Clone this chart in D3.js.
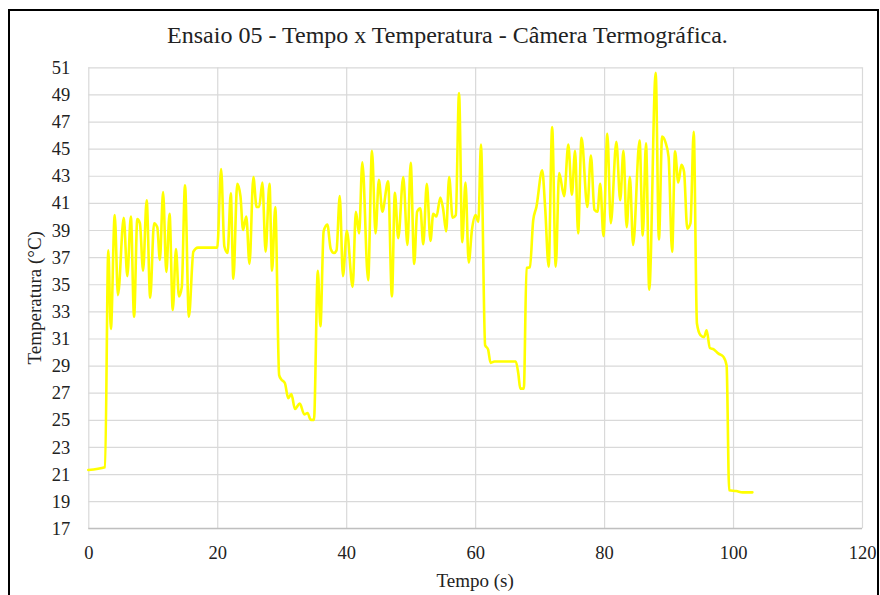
<!DOCTYPE html>
<html>
<head>
<meta charset="utf-8">
<script src="https://cdn.jsdelivr.net/npm/d3@7"></script>
<style>
  html, body { margin: 0; padding: 0; background: #fff; }
  svg { display: block; }
  text { font-family: "Liberation Serif", "Times New Roman", serif; fill: #222; }
</style>
</head>
<body>
<svg id="chart" width="880" height="595"></svg>
<script>
const titleText = "Ensaio 05 - Tempo x Temperatura - Câmera Termográfica.";
const xLabel = "Tempo (s)";
const yLabel = "Temperatura (°C)";
const xTicks = [0, 20, 40, 60, 80, 100, 120];
const yTicks = [17, 19, 21, 23, 25, 27, 29, 31, 33, 35, 37, 39, 41, 43, 45, 47, 49, 51];

const time = [0, 2.6, 3.1, 3.5, 4.1, 4.6, 5.5, 6.05, 6.6, 7.1, 7.6, 8.0, 8.5, 9.05, 9.6, 10.2, 10.7, 11.1, 11.6, 12.1,
  12.6, 13.1, 13.6, 14.05, 14.5, 15.0, 15.6, 16.3, 17.0, 18.5, 20.0, 20.6, 21.1, 21.6, 22.1, 22.5, 23.1, 23.6, 24.0, 24.5,
  25.0, 25.6, 26.1, 26.5, 27.0, 27.5, 28.1, 28.5, 29.0, 29.6, 29.9, 30.5, 31.0, 31.5, 32.05, 32.8, 33.5, 34.0, 34.5, 35.0,
  35.6, 36.0, 36.5, 37.07, 37.6, 38.1, 38.5, 39.0, 39.5, 40.1, 41.0, 41.5, 42.0, 42.5, 43.4, 44.0, 44.55, 45.07, 45.6, 46.5,
  47.09, 47.55, 48.07, 48.85, 49.5, 50.0, 50.55, 51.0, 51.5, 51.95, 52.5, 53.07, 53.5, 54.0, 54.6, 55.05, 55.5, 55.97, 56.5, 57.0,
  57.5, 58.0, 58.5, 59.0, 59.5, 60.06, 60.5, 60.9, 61.55, 62.0, 62.4, 63.0, 64.5, 66.3, 66.7, 67.0, 67.55, 67.97, 68.5, 69.0,
  69.5, 70.4, 70.85, 71.4, 71.94, 72.5, 73.03, 73.8, 74.45, 75.0, 75.5, 75.97, 76.5, 77.4, 77.95, 78.5, 78.97, 79.4, 79.9, 80.5,
  81.04, 81.9, 82.5, 83.0, 83.5, 84.0, 84.5, 85.5, 86.0, 86.5, 87.0, 88.0, 88.5, 89.0, 89.5, 90.0, 90.55, 91.0, 91.5, 92.0,
  92.4, 92.9, 93.4, 93.9, 94.4, 94.94, 95.5, 95.9, 96.4, 97.0, 97.7, 98.5, 99.0, 99.4, 100.5, 101.5, 103.0];

const temperature = [21.3, 21.5, 37.5, 31.7, 40.1, 34.2, 39.9, 35.6, 40.0, 32.6, 39.8, 39.5, 36.0, 41.2, 34.0, 39.5, 39.2, 36.8, 41.8, 35.9,
  40.2, 33.1, 37.6, 34.1, 34.8, 42.3, 32.6, 37.4, 37.7, 37.7, 37.7, 43.5, 37.8, 37.3, 41.7, 35.4, 42.4, 41.5, 39.0, 40.0,
  36.5, 42.9, 40.7, 40.7, 42.5, 37.4, 42.4, 36.0, 40.7, 28.3, 28.0, 27.7, 26.6, 26.9, 25.8, 26.2, 25.4, 25.5, 25.0, 25.0,
  36.0, 31.9, 38.9, 39.4, 37.6, 37.3, 37.5, 41.5, 35.6, 38.95, 34.8, 40.35, 38.75, 44.0, 35.3, 44.85, 38.75, 42.7, 40.35, 42.6,
  34.1, 41.75, 38.4, 42.9, 37.9, 43.95, 36.5, 40.35, 40.6, 37.95, 42.4, 38.2, 40.2, 40.0, 41.4, 40.5, 38.9, 42.9, 39.9, 40.1,
  49.1, 38.1, 42.5, 36.6, 39.0, 40.1, 39.6, 45.3, 30.5, 30.2, 29.2, 29.3, 29.3, 29.3, 28.4, 27.3, 27.3, 36.2, 36.25, 39.7,
  40.7, 43.4, 40.7, 36.3, 46.6, 36.3, 43.2, 41.5, 45.3, 41.6, 44.85, 38.75, 45.8, 40.7, 44.5, 40.5, 40.35, 42.4, 38.55, 46.1,
  39.5, 45.5, 41.2, 44.85, 39.2, 42.9, 37.9, 45.6, 38.6, 45.4, 34.6, 50.6, 38.3, 45.9, 45.5, 44.4, 37.4, 44.8, 42.5, 43.8,
  43.3, 39.1, 39.5, 46.25, 32.1, 31.25, 31.1, 31.6, 30.3, 30.2, 29.9, 29.65, 29.0, 19.8, 19.75, 19.65, 19.65];

const svg = d3.select("#chart");
const plot = { left: 88.3, right: 862, top: 67.3, bottom: 528.3 };

// outer frame
svg.append("rect")
  .attr("x", 9).attr("y", 10).attr("width", 869).attr("height", 600)
  .attr("fill", "#fff").attr("stroke", "#000").attr("stroke-width", 2);

const x = d3.scaleLinear().domain([0, 120]).range([plot.left, plot.right]);
const y = d3.scaleLinear().domain([17, 51]).range([plot.bottom, plot.top]);

// horizontal gridlines
svg.append("g")
  .attr("transform", `translate(${plot.left},0)`)
  .call(d3.axisLeft(y).tickValues(yTicks).tickSize(-(plot.right - plot.left)).tickFormat(""))
  .call(g => g.select(".domain").remove())
  .call(g => g.selectAll("line").attr("stroke", "#d9d9d9").attr("stroke-width", 1.2));

// vertical gridlines
svg.append("g")
  .attr("transform", `translate(0,${plot.bottom})`)
  .call(d3.axisBottom(x).tickValues(xTicks).tickSize(-(plot.bottom - plot.top)).tickFormat(""))
  .call(g => g.select(".domain").remove())
  .call(g => g.selectAll("line").attr("stroke", "#d9d9d9").attr("stroke-width", 1.2));

// bottom axis line
svg.append("line")
  .attr("x1", plot.left).attr("x2", plot.right)
  .attr("y1", plot.bottom).attr("y2", plot.bottom)
  .attr("stroke", "#bfbfbf").attr("stroke-width", 1.2);

// x tick labels
const xAxis = svg.append("g")
  .attr("transform", `translate(0,${plot.bottom})`)
  .call(d3.axisBottom(x).tickValues(xTicks).tickSize(0).tickPadding(0).tickFormat(d3.format("d")));
xAxis.select(".domain").remove();
xAxis.selectAll("text")
  .attr("dy", null).attr("y", 31)
  .style("font-family", '"Liberation Serif", serif').style("font-size", "18.5px").attr("fill", "#222");

// y tick labels
const yAxis = svg.append("g")
  .attr("transform", `translate(${plot.left},0)`)
  .call(d3.axisLeft(y).tickValues(yTicks).tickSize(0).tickPadding(18).tickFormat(d3.format("d")));
yAxis.select(".domain").remove();
yAxis.selectAll("text")
  .attr("dy", "0.33em")
  .style("font-family", '"Liberation Serif", serif').style("font-size", "18.5px").attr("fill", "#222");

// data line
const pts = time.map((t, i) => [t, temperature[i]]);
const line = d3.line()
  .x(d => x(d[0]))
  .y(d => y(d[1]))
  .curve(d3.curveMonotoneX);

svg.append("path")
  .datum(pts)
  .attr("d", line)
  .attr("fill", "none")
  .attr("stroke", "#ffff00")
  .attr("stroke-width", 2.6)
  .attr("stroke-linejoin", "round")
  .attr("stroke-linecap", "round");

// title
svg.append("text")
  .attr("x", 447.5).attr("y", 43)
  .attr("text-anchor", "middle")
  .style("font-size", "24px")
  .text(titleText);

// x label
svg.append("text")
  .attr("x", (plot.left + plot.right) / 2).attr("y", 587)
  .attr("text-anchor", "middle")
  .style("font-size", "19px")
  .text(xLabel);

// y label
svg.append("text")
  .attr("transform", `translate(41,${(plot.top + plot.bottom) / 2}) rotate(-90)`)
  .attr("text-anchor", "middle")
  .style("font-size", "19px")
  .text(yLabel);
</script>
</body>
</html>
